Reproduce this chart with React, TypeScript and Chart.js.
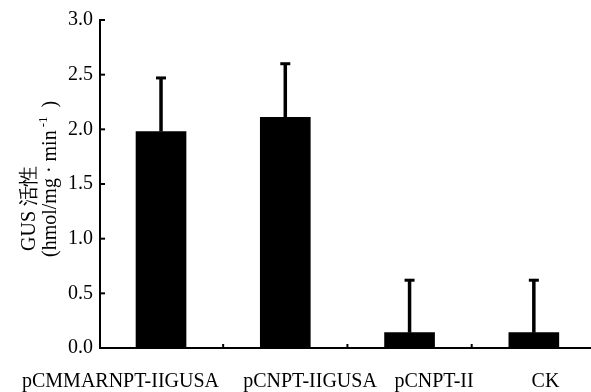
import { useEffect, useRef } from 'react';
import { Chart, registerables } from 'chart.js';

Chart.register(...registerables);

// ---- data ----
const CATEGORIES = ['pCMMARNPT-IIGUSA', 'pCNPT-IIGUSA', 'pCNPT-II', 'CK'];
const VALUES = [1.98, 2.11, 0.14, 0.14];
const ERRORS = [0.49, 0.49, 0.48, 0.48];
const Y_TICKS = [0, 0.5, 1.0, 1.5, 2.0, 2.5, 3.0];
const Y_TITLE_LINE1 = 'GUS 活性';
const Y_TITLE_LINE2 = ['(hmol/mg · min', '-1', ' )'];

// ---- layout (positions of the category labels on the x scale) ----
const LABEL_CENTERS = [0.674, 2.199, 3.197, 4.094];
const FONT = "'Liberation Serif', 'Times New Roman', serif";

const decor = {
  id: 'decor',
  afterDatasetsDraw(chart: any) {
    const ctx = chart.ctx;
    const y = chart.scales.y;
    const x = chart.scales.x;
    const area = chart.chartArea;
    const meta = chart.getDatasetMeta(0);
    ctx.save();
    ctx.strokeStyle = '#000';
    ctx.fillStyle = '#000';
    ctx.lineCap = 'butt';
    // error bars (upper only)
    meta.data.forEach((bar: any, i: number) => {
      const top = y.getPixelForValue(VALUES[i] + ERRORS[i]);
      ctx.lineWidth = 3.5;
      ctx.beginPath();
      ctx.moveTo(bar.x, bar.y);
      ctx.lineTo(bar.x, top);
      ctx.stroke();
      ctx.lineWidth = 3;
      ctx.beginPath();
      ctx.moveTo(bar.x - 5, top);
      ctx.lineTo(bar.x + 5, top);
      ctx.stroke();
    });
    // inward y ticks
    ctx.lineWidth = 2;
    Y_TICKS.forEach((v) => {
      const py = y.getPixelForValue(v);
      ctx.beginPath();
      ctx.moveTo(area.left, py);
      ctx.lineTo(area.left + 5, py);
      ctx.stroke();
    });
    // inward x ticks between categories
    for (let i = 1; i < CATEGORIES.length; i++) {
      const px = x.getPixelForValue(i + 0.5);
      ctx.beginPath();
      ctx.moveTo(px, area.bottom);
      ctx.lineTo(px, area.bottom - 4);
      ctx.stroke();
    }
    // y axis title (two rotated lines)
    ctx.textBaseline = 'middle';
    ctx.textAlign = 'left';
    ctx.save();
    ctx.translate(30, 251);
    ctx.rotate(-Math.PI / 2);
    ctx.font = `20px ${FONT}`;
    ctx.fillText(Y_TITLE_LINE1, 0, 0);
    ctx.restore();
    ctx.save();
    ctx.translate(51, 257);
    ctx.rotate(-Math.PI / 2);
    ctx.font = `20px ${FONT}`;
    let off = 0;
    ctx.fillText(Y_TITLE_LINE2[0], off, 0);
    off += ctx.measureText(Y_TITLE_LINE2[0]).width + 3;
    ctx.font = `13px ${FONT}`;
    ctx.fillText(Y_TITLE_LINE2[1], off, -7);
    off += ctx.measureText(Y_TITLE_LINE2[1]).width + 4;
    ctx.font = `20px ${FONT}`;
    ctx.fillText(Y_TITLE_LINE2[2], off, 0);
    ctx.restore();
    ctx.restore();
  },
};

export default function App() {
  const ref = useRef<HTMLCanvasElement>(null);
  useEffect(() => {
    if (!ref.current) return;
    const chart = new Chart(ref.current, {
      type: 'bar',
      data: {
        datasets: [
          {
            data: VALUES.map((v, i) => ({ x: i + 1, y: v })),
            backgroundColor: '#000',
            borderWidth: 0,
            barThickness: 50,
          },
        ],
      },
      options: {
        animation: false,
        responsive: false,
        layout: { padding: { top: 20, right: 0, left: 0, bottom: 0 } },
        plugins: { legend: { display: false }, tooltip: { enabled: false } },
        scales: {
          x: {
            type: 'linear',
            offset: false,
            min: 0.509,
            max: 4.46,
            grid: { display: false, drawTicks: false, offset: false },
            border: { display: true, color: '#000', width: 2 },
            afterBuildTicks: (s: any) => {
              s.ticks = LABEL_CENTERS.map((v) => ({ value: v }));
            },
            afterFit: (s: any) => {
              s.height = 44;
              s.paddingLeft = 0;
              s.paddingRight = 0;
            },
            ticks: {
              autoSkip: false,
              maxRotation: 0,
              padding: 22,
              color: '#000',
              font: { family: FONT, size: 20 },
              callback: (_v: any, i: number) => CATEGORIES[i],
            },
          },
          y: {
            type: 'linear',
            min: 0,
            max: 3,
            grid: { display: false, drawTicks: false },
            border: { display: true, color: '#000', width: 2 },
            afterBuildTicks: (s: any) => {
              s.ticks = Y_TICKS.map((v) => ({ value: v }));
            },
            afterFit: (s: any) => {
              s.width = 100;
            },
            ticks: {
              padding: 7,
              color: '#000',
              font: { family: FONT, size: 20 },
              callback: (v: any) => Number(v).toFixed(1),
            },
          },
        },
      },
      plugins: [decor],
    });
    return () => chart.destroy();
  }, []);
  return (
    <div style={{ position: 'fixed', left: 0, top: 0, width: 591, height: 392, background: '#fff' }}>
      <canvas ref={ref} width={591} height={392} style={{ display: 'block' }} />
    </div>
  );
}
